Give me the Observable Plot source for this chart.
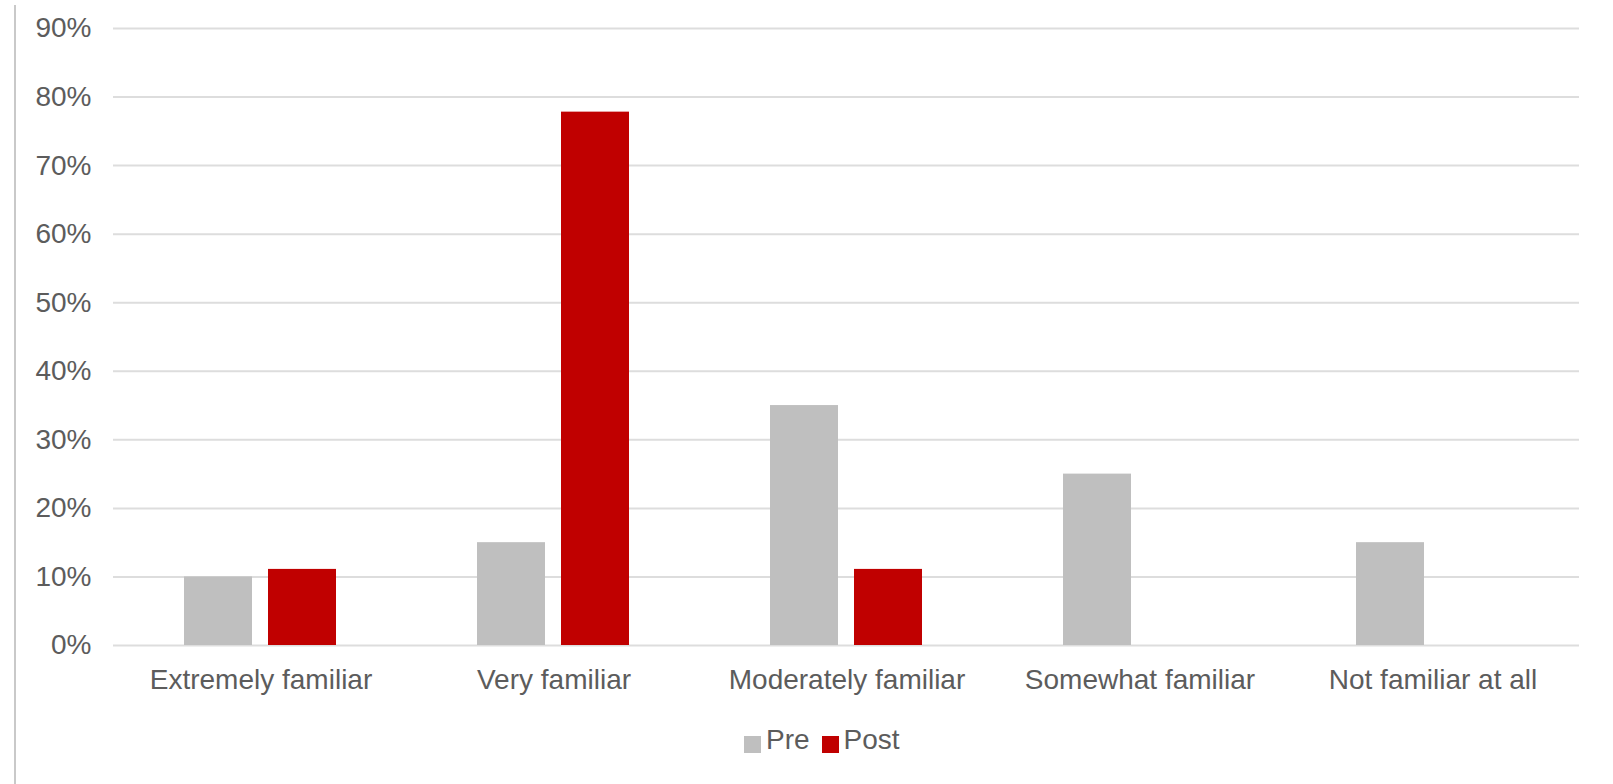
<!DOCTYPE html>
<html>
<head>
<meta charset="utf-8">
<script src="https://cdn.jsdelivr.net/npm/d3@7"></script>
<script src="https://cdn.jsdelivr.net/npm/@observablehq/plot@0.6"></script>
<style>
  html, body { margin: 0; padding: 0; background: #ffffff; }
  #wrap { position: relative; width: 1613px; height: 784px; overflow: hidden; font-family: "Liberation Sans", Arial, Helvetica, sans-serif; }
  #leftline { position: absolute; left: 14px; top: 5px; width: 2px; height: 779px; background: #c9c9c9; }
  #chart { position: absolute; left: 0; top: 0; }
  #legend { position: absolute; left: 744px; top: 724px; display: flex; align-items: center; font-size: 28px; color: #5c5c5c; white-space: nowrap; }
  #legend .sw { display: inline-block; width: 17px; height: 17px; margin-right: 5px; margin-top: 8px; }
  #legend .item { display: flex; align-items: center; margin-right: 12px; }
</style>
</head>
<body>
<div id="wrap">
  <div id="leftline"></div>
  <div id="chart"></div>
  <div id="legend"></div>
</div>
<script>
const categories = ["Extremely familiar", "Very familiar", "Moderately familiar", "Somewhat familiar", "Not familiar at all"];
const seriesNames = ["Pre", "Post"];
const preValues = [10, 15, 35, 25, 15];
const postValues = [11.1, 77.8, 11.1, 0, 0];
const yTicks = [0, 10, 20, 30, 40, 50, 60, 70, 80, 90];
const seriesColors = ["#BFBFBF", "#C00000"];

const rows = categories.flatMap((c, i) => [
  {category: c, series: "Pre", value: preValues[i]},
  {category: c, series: "Post", value: postValues[i]}
]);

const chart = Plot.plot({
  width: 1613,
  height: 700,
  marginTop: 28,
  marginBottom: 55,
  marginLeft: 113,
  marginRight: 34,
  style: {fontFamily: "'Liberation Sans', Arial, Helvetica, sans-serif", fontSize: "28px", color: "#5c5c5c", background: "transparent"},
  x: {domain: categories, padding: 0, label: null, tickSize: 0, tickPadding: 24},
  y: {domain: [0, 90], ticks: yTicks, tickFormat: d => d + "%", label: null, tickSize: 0, tickPadding: 22},
  color: {domain: seriesNames, range: seriesColors},
  marks: [
    Plot.ruleY(yTicks, {stroke: "#dddddd", strokeWidth: 2}),
    Plot.barY(rows.filter(d => d.series === "Pre"), {x: "category", y: "value", fill: "series", insetLeft: 70, insetRight: 155}),
    Plot.barY(rows.filter(d => d.series === "Post"), {x: "category", y: "value", fill: "series", insetLeft: 154, insetRight: 71})
  ]
});
document.getElementById("chart").appendChild(chart);

const legend = document.getElementById("legend");
seriesNames.forEach((s, i) => {
  const item = document.createElement("span");
  item.className = "item";
  const sw = document.createElement("span");
  sw.className = "sw";
  sw.style.background = seriesColors[i];
  const t = document.createElement("span");
  t.textContent = s;
  item.appendChild(sw);
  item.appendChild(t);
  legend.appendChild(item);
});
</script>
</body>
</html>
